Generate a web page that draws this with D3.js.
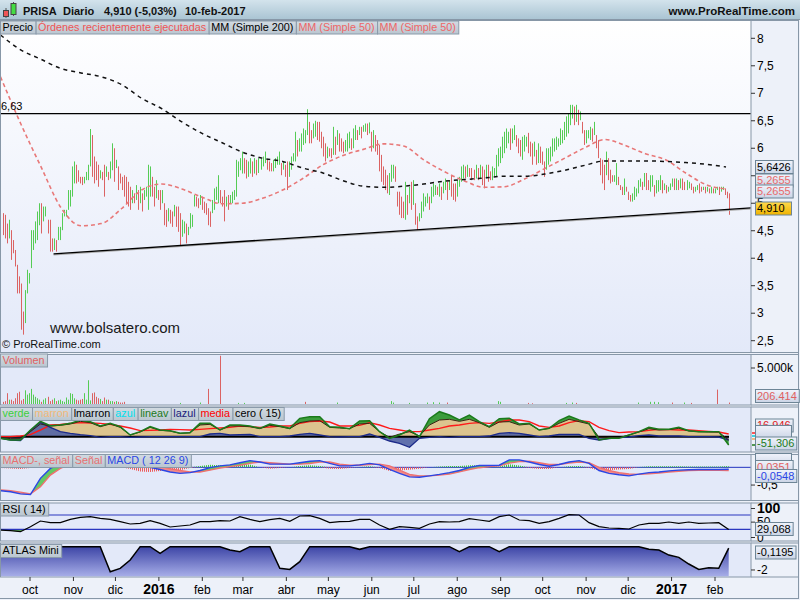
<!DOCTYPE html>
<html>
<head>
<meta charset="utf-8">
<title>PRISA Diario</title>
<script src="https://d3js.org/d3.v7.min.js"></script>
<style>
  body { margin: 0; background: #edf1f9; }
  svg { display: block; font-family: "Liberation Sans", Arial, sans-serif; }
</style>
</head>
<body>
<div id="chart"></div>
<script>
// PRISA daily chart up to 10-feb-2017

// daily bars: high / low
var hi = [
  4.82,4.79,4.63,4.70,4.51,4.33,4.15,3.88,3.67,3.54,3.03,3.42,3.79,3.73,
  4.51,4.51,4.67,4.85,5.00,5.00,4.94,4.94,4.70,4.70,4.36,4.36,4.33,4.57,4.57,4.82,4.88,4.88,5.24,5.24,
  5.67,5.76,5.70,5.60,5.48,5.48,5.48,5.57,5.70,6.35,6.24,5.85,5.76,5.70,5.60,5.57,5.70,5.67,5.57,5.76,
  6.09,6.00,5.79,5.67,5.54,5.48,5.51,5.48,5.39,5.30,5.24,5.18,5.33,5.24,5.30,5.18,5.24,5.30,5.70,5.67,5.48,5.30,5.42,5.24,5.24,5.24,
  5.00,4.88,4.91,4.88,4.85,4.97,4.94,4.94,4.82,4.70,4.67,4.63,4.57,4.82,4.79,5.15,5.12,5.09,5.15,5.12,
  5.03,5.00,4.91,4.85,5.06,5.27,5.30,5.51,5.24,5.12,5.24,5.12,5.15,5.15,5.21,5.24,5.79,5.76,5.82,5.94,5.82,5.79,5.76,5.82,5.76,5.82,
  5.79,5.82,5.82,5.85,5.94,5.79,5.76,5.73,5.79,5.82,5.85,5.94,5.73,5.76,5.70,5.76,5.76,5.85,5.91,6.30,6.15,6.18,6.27,6.36,6.33,
  6.71,6.48,6.33,6.45,6.50,6.48,6.48,6.30,6.21,6.09,6.03,6.00,6.00,6.39,6.21,6.33,6.27,6.18,6.12,6.15,6.27,6.30,6.18,6.36,6.42,
  6.33,6.39,6.39,6.42,6.45,6.45,6.47,6.30,6.33,6.24,6.15,6.06,5.88,5.67,5.61,5.51,5.55,5.70,5.70,5.67,5.21,5.21,5.12,5.03,
  5.39,5.15,5.30,5.39,5.42,5.00,4.76,4.82,5.03,5.18,5.12,5.18,5.12,5.30,5.36,5.33,5.30,5.36,5.30,5.39,5.45,5.39,5.42,5.51,5.36,5.36,
  5.42,5.48,5.67,5.70,5.67,5.70,5.64,5.64,5.61,5.70,5.64,5.70,5.67,5.61,5.70,5.70,5.58,5.67,5.64,5.88,6.00,6.03,6.21,6.30,6.36,
  6.30,6.36,6.36,6.42,6.24,6.18,6.15,6.21,6.24,6.21,6.28,6.12,6.09,6.12,5.97,6.09,6.03,5.94,5.76,6.00,6.00,6.03,6.18,6.18,6.21,
  6.18,6.36,6.33,6.48,6.58,6.64,6.79,6.79,6.76,6.79,6.70,6.67,6.48,6.33,6.33,6.33,6.39,6.36,6.48,6.24,6.15,5.82,5.79,5.70,
  5.94,5.82,5.61,5.51,5.51,5.73,5.48,5.33,5.30,5.45,5.30,5.21,5.15,5.18,5.30,5.27,5.42,5.45,5.39,5.55,5.55,5.42,5.51,5.51,5.33,5.42,5.42,5.51,5.42,5.36,
  5.33,5.30,5.36,5.45,5.45,5.45,5.42,5.45,5.45,5.39,5.42,5.39,5.36,5.30,5.30,5.33,5.36,5.30,5.30,5.30,5.30,5.27,5.30,5.27,5.27,5.30,5.30,5.30,5.30,5.27,5.21,5.18
];
var lo = [
  4.42,4.36,4.27,4.36,3.97,4.09,3.85,3.36,3.36,2.70,2.61,2.82,3.36,3.54,
  3.82,4.15,4.27,4.33,4.60,4.45,4.67,4.76,4.45,4.12,4.12,4.15,4.12,4.33,4.33,4.51,4.76,4.76,4.88,4.94,
  5.12,5.36,5.36,5.39,5.36,5.33,5.36,5.42,5.42,5.67,5.48,5.36,5.42,5.30,5.45,5.42,5.12,5.48,5.42,5.45,
  5.60,5.39,5.64,5.24,5.36,5.24,5.12,5.00,4.94,4.88,5.00,5.00,5.06,4.88,5.00,4.85,5.06,5.12,4.88,5.12,5.12,4.94,5.09,5.06,4.88,5.00,
  4.60,4.57,4.67,4.63,4.57,4.76,4.57,4.48,4.24,4.39,4.45,4.27,4.42,4.54,4.57,4.94,4.94,4.91,4.97,4.88,
  4.82,4.79,4.60,4.57,4.82,4.88,5.06,5.00,5.00,4.94,4.67,4.94,4.88,5.00,5.00,5.06,5.12,5.48,5.60,5.54,5.54,5.45,5.48,5.54,5.48,5.54,
  5.51,5.55,5.61,5.67,5.73,5.61,5.58,5.58,5.58,5.64,5.70,5.70,5.51,5.61,5.48,5.24,5.48,5.61,5.76,5.76,5.85,5.94,5.94,6.06,6.09,
  6.24,6.09,6.09,6.18,6.21,6.15,6.12,6.00,5.85,5.76,5.82,5.85,5.82,5.88,5.88,6.06,5.94,5.94,5.91,5.94,5.94,6.00,5.97,6.00,6.15,
  6.15,6.24,6.18,6.30,6.30,6.24,6.27,5.94,6.00,5.94,5.88,5.58,5.39,5.33,5.24,5.18,5.15,5.39,5.45,5.39,4.94,4.79,4.73,4.73,
  4.70,4.79,5.00,4.88,4.97,4.61,4.51,4.67,4.73,4.85,4.94,5.00,4.88,5.00,5.12,5.15,5.15,5.12,5.06,5.18,5.24,5.06,5.24,5.12,5.06,5.03,
  5.12,5.30,5.39,5.45,5.45,5.48,5.48,5.42,5.42,5.45,5.42,5.45,5.33,5.27,5.45,5.39,5.42,5.42,5.48,5.48,5.67,5.73,5.82,5.91,6.00,
  6.09,5.97,6.09,6.15,6.03,5.91,5.85,5.79,5.94,6.03,5.91,5.85,5.70,5.85,5.70,5.73,5.73,5.70,5.48,5.61,5.70,5.76,5.85,5.94,5.97,
  6.03,6.06,6.09,6.15,6.21,6.27,6.42,6.54,6.42,6.48,6.42,6.51,6.27,6.06,6.09,6.18,6.15,6.12,6.24,6.00,5.82,5.51,5.36,5.24,
  5.51,5.42,5.36,5.39,5.39,5.33,5.33,5.24,5.15,5.15,5.21,5.06,5.03,5.03,5.06,5.12,5.18,5.30,5.24,5.30,5.24,5.24,5.21,5.30,5.12,5.18,5.21,5.24,5.18,5.24,
  5.18,5.21,5.24,5.30,5.24,5.24,5.24,5.27,5.24,5.24,5.24,5.27,5.24,5.18,5.21,5.24,5.18,5.21,5.24,5.18,5.21,5.18,5.18,5.18,5.18,5.24,5.15,5.21,5.24,5.15,5.09,4.79
];

// moving averages, one reading every ~20 px along the chart
var ma200 = [8.06,7.79,7.62,7.45,7.37,7.30,7.16,6.91,6.72,6.48,6.27,6.10,5.93,5.82,5.76,5.64,5.55,5.41,5.31,5.29,
             5.31,5.35,5.40,5.43,5.46,5.49,5.49,5.53,5.60,5.69,5.77,5.77,5.77,5.76,5.74,5.71,5.66];
var ma50 = [7.30,6.45,5.67,4.92,4.59,4.63,4.90,5.24,5.35,5.26,5.11,4.99,5.00,5.09,5.24,5.45,5.70,5.87,5.98,6.08,
            6.04,5.79,5.58,5.41,5.29,5.30,5.44,5.63,5.82,6.01,6.16,6.05,5.90,5.79,5.55,5.34,5.26];
var resistance = 6.63;
var supportBar = [25, 361];
var supportPrice = [4.08, 4.89];

// volume (millions): first bars one by one, then the few visible ones
var volStart = [0.3,0.4,1.5,0.6,0.6,0.4,0.8,1.5,1.7,0.5,0.7,1.9,1.3,1.5,2.1,1.3,1.0,0.8,0.6,0.3,
                0.6,0.8,1.0,0.4,0.6,0.8,0.4,0.5,0.6,0.4,0.3,0.9,0.6,1.5,1.4,0.8,0.6,0.5,0.6,0.7,
                1.5,0.6,3.3,0.5,1.5,1.6,1.0,0.8,0.7,0.4,0.9,0.6,0.6,0.4,0.4,0.3,0.4,0.3,0.2,0.2,0.3];
var volBar = [88,98,102,108,117,120,150,166,193,194,202,211,214,217,221,246,247,261,263,280,283,285,316,322,324,326,333,339,342,355,361];
var volVal = [0.15,0.2,2.1,6.7,0.15,0.15,0.3,0.2,0.4,0.2,0.15,0.2,0.25,0.2,0.2,0.4,0.3,0.15,0.1,0.15,
              0.2,0.15,0.2,0.3,0.3,0.25,0.2,0.2,0.15,2.0,0.2];
var volCol = "ggrrggrgggggggrggrrggrggggrgrrr";

// oscillator panel (cero 15), one reading every ~10 px
var oscLineav = [-10,-20,-20,40,92,66,70,80,100,90,64,80,60,10,30,60,40,36,20,24,80,80,40,70,70,64,50,76,64,50,
                 110,120,120,60,56,48,94,96,30,-10,10,40,0,108,150,130,100,130,90,60,108,110,76,80,40,50,96,124,100,80,
                 -20,-10,-10,10,30,56,44,44,56,36,30,30,30,-50];
var oscLmarron = [-4,-12,-12,30,76,64,68,76,92,84,60,76,56,10,28,56,38,34,20,24,70,74,40,64,64,60,48,68,60,48,
                  84,94,96,56,52,48,76,80,30,-4,16,30,4,70,100,104,92,104,84,56,88,90,70,76,40,50,80,104,90,76,
                  -4,-4,-6,10,28,48,40,42,50,34,30,28,28,-20];
var oscMedia = [0,0,4,12,40,70,74,80,84,82,80,74,64,52,36,38,40,44,42,40,44,48,52,56,64,60,56,58,64,64,
                80,90,94,88,64,64,68,84,70,50,40,30,30,40,50,64,70,80,84,80,88,100,100,90,64,56,64,84,96,90,
                56,36,24,28,30,38,44,42,40,40,36,32,28,16];
var oscLazul = [-10,-20,-24,36,86,56,30,20,12,6,-4,0,0,-4,-2,0,0,0,0,0,0,16,20,10,12,14,0,0,0,4,
                14,20,10,0,-2,0,0,16,-4,-26,-40,-64,-10,-4,0,-4,0,0,0,4,20,24,20,10,0,4,14,14,14,-10,
                -20,-12,-6,-2,6,10,4,4,4,0,0,0,-2,-20];

// MACD (12 26 9)
var macdLine = [-0.66,-0.69,-0.75,-0.77,-0.31,-0.03,0.09,0.19,0.28,0.35,0.33,0.28,0.30,0.23,0.11,0,-0.06,-0.13,-0.17,-0.15,
                -0.09,-0.01,0.04,0.07,0.13,0.19,0.15,0.09,0.09,0.09,0.13,0.17,0.19,0.11,0.04,0.04,0.07,0.11,0.07,-0.06,
                -0.17,-0.27,-0.28,-0.24,-0.20,-0.15,-0.09,0,0.05,0.05,0.06,0.21,0.21,0.15,0.08,0.03,0.08,0.15,0.19,0.11,
                -0.09,-0.17,-0.21,-0.24,-0.19,-0.15,-0.13,-0.10,-0.08,-0.07,-0.06,-0.06,-0.06,-0.055];
var macdSignal = [-0.64,-0.66,-0.70,-0.75,-0.55,-0.22,-0.03,0.09,0.19,0.25,0.30,0.30,0.30,0.28,0.23,0.13,0.04,-0.04,-0.09,-0.13,
                  -0.13,-0.08,-0.02,0.02,0.06,0.11,0.15,0.13,0.11,0.09,0.09,0.11,0.15,0.15,0.09,0.06,0.06,0.08,0.09,0.04,
                  -0.08,-0.20,-0.24,-0.24,-0.22,-0.19,-0.13,-0.06,-0.01,0.02,0.04,0.12,0.16,0.17,0.13,0.08,0.08,0.12,0.15,0.13,
                  0,-0.09,-0.15,-0.19,-0.20,-0.18,-0.16,-0.13,-0.11,-0.09,-0.085,-0.085,-0.085,-0.09];

// RSI (14)
var rsi = [28.0,26.1,23.3,37.3,53.1,48.5,48.5,57.8,63.4,65.3,60.6,57.8,51.3,44.8,46.6,54.1,46.6,36.4,39.2,42.0,
           51.3,51.3,54.1,53.1,65.3,57.8,51.3,56.9,60.6,52.2,67.1,68.1,60.6,48.5,51.3,52.2,57.8,57.8,42.0,29.8,
           37.3,35.4,32.6,44.8,51.3,50.3,51.3,59.7,55.9,52.2,65.3,69.9,55.9,54.1,46.6,51.3,60.6,70.9,69.9,48.5,
           37.3,33.6,32.6,30.8,42.0,46.6,46.6,50.3,46.6,50.3,46.6,47.6,48.5,29.1];

// ATLAS Mini
var atlas = [0,0,0,0,0,0,0,0,0,0, 0,-2.15,-1.86,-1.14,0,0,-0.57,0,0,0, 0,0,0,-0.29,-0.43,0,0,0,-1.86,-1.95,
             -1.29,0,0,0,0,0,-0.23,0,0,0, 0,0,0,0,0,0,-0.43,0,0,0, -0.43,0,0,0,0,0,0,0,0,0,
             0,0,0,0,0,-0.23,-0.29,-0.72,-0.92,-1.49, -1.95,-1.80,-1.86,-0.12];

var monthNames = ['ene','feb','mar','abr','may','jun','jul','ago','sep','oct','nov','dic'];
var priceTicks = [8, 7.5, 7, 6.5, 6, 5.5, 5, 4.5, 4, 3.5, 3, 2.5];

// ---------------------------------------------------------------

var svg = d3.select('#chart').append('svg').attr('width', 800).attr('height', 600);
var defs = svg.append('defs');

function vGrad(id, c0, c1) {
  var g = defs.append('linearGradient').attr('id', id)
    .attr('x1', 0).attr('y1', 0).attr('x2', 0).attr('y2', 1);
  g.append('stop').attr('offset', '0%').attr('stop-color', c0);
  g.append('stop').attr('offset', '100%').attr('stop-color', c1);
}
vGrad('hdrGrad', '#d3e3ec', '#a8c3d2');
vGrad('priceGrad', '#ffffff', '#e3e9f9');
vGrad('atlasGrad', '#3d45a6', '#a7aee8');
vGrad('boxGrad', '#f0f3fb', '#cbd5e6');
vGrad('goldGrad', '#ffd94d', '#efb300');
vGrad('legGrad', '#d2dbe2', '#bac6d0');

// striped fills for the MACD histogram
function stripes(id, color) {
  var p = defs.append('pattern').attr('id', id).attr('width', 2).attr('height', 4)
    .attr('patternUnits', 'userSpaceOnUse');
  p.append('rect').attr('width', 1).attr('height', 4).attr('fill', color);
}
stripes('histUp', '#3cc83c');
stripes('histDown', '#ee5a5a');

svg.append('rect').attr('width', 800).attr('height', 600).attr('fill', '#edf1f9');

var plotRight = 751;
var panels = [
  { id: 'price', top: 20, bottom: 352, fill: 'url(#priceGrad)' },
  { id: 'vol', top: 354, bottom: 404.5, fill: '#e3e9f9' },
  { id: 'osc', top: 406.5, bottom: 451.5, fill: '#e3e9f9' },
  { id: 'macd', top: 454, bottom: 500, fill: '#e3e9f9' },
  { id: 'rsi', top: 502.5, bottom: 540.5, fill: '#e3e9f9' },
  { id: 'atlas', top: 542.5, bottom: 576.5, fill: '#e3e9f9' }
];
var G = {};
panels.forEach(function(p) {
  svg.append('rect').attr('x', 0.5).attr('y', p.top + 0.5)
    .attr('width', plotRight - 0.5).attr('height', p.bottom - p.top)
    .attr('fill', p.fill).attr('stroke', '#8797a7');
  [p.top + 0.5, p.bottom + 0.5].forEach(function(yy) {
    svg.append('line').attr('x1', plotRight).attr('x2', 798).attr('y1', yy).attr('y2', yy)
      .attr('stroke', '#8797a7');
  });
  defs.append('clipPath').attr('id', 'clip-' + p.id).append('rect')
    .attr('x', 1).attr('y', p.top + 1).attr('width', plotRight - 1.5).attr('height', p.bottom - p.top - 1);
  G[p.id] = svg.append('g').attr('clip-path', 'url(#clip-' + p.id + ')');
});
// outer frame
svg.append('line').attr('x1', 798.5).attr('x2', 798.5).attr('y1', 20).attr('y2', 599).attr('stroke', '#8797a7');
svg.append('line').attr('x1', 0).attr('x2', 799).attr('y1', 598.5).attr('y2', 598.5).attr('stroke', '#8797a7');

// scales
var x = d3.scaleLinear().domain([0, hi.length - 1]).range([3.3, 728.7]);
var sx = d3.scaleLinear().domain([0, oscLineav.length - 1]).range([0.5, 728.7]);
var mx = d3.scaleLinear().domain([0, ma200.length - 1]).range([0.5, 726]);
var xt = d3.scaleTime().domain([new Date(2015, 9, 1), new Date(2017, 1, 1)]).range([30, 715]);
var yP = d3.scaleLinear().domain([2.5, 8]).range([340.7, 38.3]);
var yV = d3.scaleLinear().domain([0, 5]).range([404, 368]);
var yO = d3.scaleLinear().domain([0, 60]).range([436.67, 426.67]);
var yM = d3.scaleLinear().domain([0, -0.5]).range([467.33, 485.06]);
var yR = d3.scaleLinear().domain([0, 100]).range([540, 504.25]);
var yA = d3.scaleLinear().domain([0, -2]).range([546.67, 569.97]);

function bx(i) { return Math.round(x(i)) + 0.5; }
function sxi(d, i) { return sx(i); }

// bar colour: green when the bar's middle is above the previous one
var mids = hi.map(function(h, i) { return (h + lo[i]) / 2; });
function isUp(i) { return i > 0 && mids[i] >= mids[i - 1]; }
var GREEN = '#55cc55', RED = '#db6363';

// ---- price panel ----
var gp = G.price;
gp.selectAll('line.bar').data(hi).enter().append('line').attr('class', 'bar')
  .attr('x1', function(d, i) { return bx(i); }).attr('x2', function(d, i) { return bx(i); })
  .attr('y1', function(d) { return yP(d); }).attr('y2', function(d, i) { return yP(lo[i]); })
  .attr('stroke', function(d, i) { return isUp(i) ? GREEN : RED; }).attr('stroke-width', 1);

var maLine = d3.line().x(function(d, i) { return mx(i); }).y(function(d) { return yP(d); }).curve(d3.curveMonotoneX);
gp.append('path').datum(ma50).attr('d', maLine).attr('fill', 'none')
  .attr('stroke', '#e87878').attr('stroke-width', 1.6).attr('stroke-dasharray', '4,3');
gp.append('path').datum(ma200).attr('d', maLine).attr('fill', 'none')
  .attr('stroke', '#111').attr('stroke-width', 1.5).attr('stroke-dasharray', '4,4');

// horizontal resistance
gp.append('line').attr('x1', 0).attr('x2', plotRight).attr('y1', yP(resistance)).attr('y2', yP(resistance))
  .attr('stroke', '#000').attr('stroke-width', 1.2);
svg.append('text').attr('x', 1).attr('y', yP(resistance) - 4).text('6,63').style('font-size', '11px');

// rising support line, extended to the axis
var sx0 = x(supportBar[0]), sy0 = yP(supportPrice[0]);
var slope = (yP(supportPrice[1]) - sy0) / (x(supportBar[1]) - sx0);
var syEnd = sy0 + slope * (plotRight - sx0);
gp.append('line').attr('x1', sx0).attr('y1', sy0 + 1).attr('x2', plotRight).attr('y2', syEnd + 1)
  .attr('stroke', '#aaa').attr('stroke-width', 1.2);
gp.append('line').attr('x1', sx0).attr('y1', sy0).attr('x2', plotRight).attr('y2', syEnd)
  .attr('stroke', '#000').attr('stroke-width', 1.3);

svg.append('text').attr('x', 50).attr('y', 333).text('www.bolsatero.com')
  .style('font-size', '15px').attr('fill', '#1a1a1a');
svg.append('text').attr('x', 2).attr('y', 348).text('\u00a9 ProRealTime.com')
  .style('font-size', '11px').attr('fill', '#111');

// ---- volume ----
var vData = volStart.map(function(v, i) { return { i: i, v: v, up: isUp(i) }; });
volBar.forEach(function(b, k) { vData.push({ i: b, v: volVal[k], up: volCol.charAt(k) === 'g' }); });
G.vol.selectAll('line.vol').data(vData).enter().append('line').attr('class', 'vol')
  .attr('x1', function(d) { return bx(d.i); }).attr('x2', function(d) { return bx(d.i); })
  .attr('y1', yV(0)).attr('y2', function(d) { return yV(d.v); })
  .attr('stroke', function(d) { return d.up ? GREEN : RED; });

// ---- oscillator (cero 15) ----
var go = G.osc;
var zeroArea = d3.area().x(sxi).y0(yO(0)).y1(function(d) { return yO(d); });
go.append('path').datum(oscLmarron).attr('d', zeroArea).attr('fill', '#dcc48e');
go.append('path').datum(oscLineav)
  .attr('d', d3.area().x(sxi).y0(function(d, i) { return yO(oscLmarron[i]); }).y1(function(d) { return yO(d); }))
  .attr('fill', '#3c9c3c');
go.append('path').datum(oscLazul).attr('d', zeroArea).attr('fill', '#5565a5').attr('opacity', 0.92);
var oLine = d3.line().x(sxi).y(function(d) { return yO(d); });
go.append('line').attr('x1', 0).attr('x2', 729).attr('y1', yO(0)).attr('y2', yO(0))
  .attr('stroke', '#000').attr('stroke-width', 2);
go.append('path').datum(oscMedia).attr('d', oLine).attr('fill', 'none').attr('stroke', '#ff1a1a').attr('stroke-width', 1.4);
go.append('path').datum(oscLazul).attr('d', oLine).attr('fill', 'none').attr('stroke', '#1c2a8a').attr('stroke-width', 1.3);
go.append('path').datum(oscLmarron).attr('d', oLine).attr('fill', 'none').attr('stroke', '#3a2412').attr('stroke-width', 1);
go.append('path').datum(oscLineav).attr('d', oLine).attr('fill', 'none').attr('stroke', '#1b7a1b').attr('stroke-width', 1.5);

// ---- MACD ----
var gm = G.macd;
var macdP = panels[3];
gm.append('line').attr('x1', 0).attr('x2', plotRight).attr('y1', yM(0)).attr('y2', yM(0))
  .attr('stroke', '#2233c0').attr('stroke-width', 1);
var diff = macdLine.map(function(m, i) { return m - macdSignal[i]; });
gm.append('path').datum(diff)
  .attr('d', d3.area().x(sxi).y0(yM(0)).y1(function(d) { return yM(Math.max(d, 0)); }))
  .attr('fill', 'url(#histUp)');
gm.append('path').datum(diff)
  .attr('d', d3.area().x(sxi).y0(yM(0)).y1(function(d) { return yM(Math.min(d, 0)); }))
  .attr('fill', 'url(#histDown)');
defs.append('clipPath').attr('id', 'macdAbove').append('path').datum(macdSignal)
  .attr('d', d3.area().x(sxi).y0(macdP.top).y1(function(d) { return yM(d); }));
defs.append('clipPath').attr('id', 'macdBelow').append('path').datum(macdSignal)
  .attr('d', d3.area().x(sxi).y0(macdP.bottom).y1(function(d) { return yM(d); }));
var between = d3.area().x(sxi).y0(function(d, i) { return yM(macdSignal[i]); }).y1(function(d) { return yM(d); });
gm.append('path').datum(macdLine).attr('d', between).attr('fill', '#64c864').attr('clip-path', 'url(#macdAbove)');
gm.append('path').datum(macdLine).attr('d', between).attr('fill', '#f08a8a').attr('clip-path', 'url(#macdBelow)');
var mLine = d3.line().x(sxi).y(function(d) { return yM(d); });
gm.append('path').datum(macdSignal).attr('d', mLine).attr('fill', 'none').attr('stroke', '#f07070').attr('stroke-width', 1.4);
gm.append('path').datum(macdLine).attr('d', mLine).attr('fill', 'none').attr('stroke', '#2a46e6').attr('stroke-width', 1.4);

// ---- RSI ----
var gr = G.rsi;
defs.append('clipPath').attr('id', 'rsiLow').append('rect')
  .attr('x', 0).attr('y', yR(30)).attr('width', plotRight).attr('height', 20);
gr.append('path').datum(rsi)
  .attr('d', d3.area().x(sxi).y0(yR(30)).y1(function(d) { return yR(d); }))
  .attr('fill', '#5aa85a').attr('clip-path', 'url(#rsiLow)');
[70, 30].forEach(function(lv) {
  gr.append('line').attr('x1', 0).attr('x2', plotRight).attr('y1', yR(lv)).attr('y2', yR(lv))
    .attr('stroke', '#2a36c0').attr('stroke-width', 1.2);
});
gr.append('path').datum(rsi).attr('d', d3.line().x(sxi).y(function(d) { return yR(d); }))
  .attr('fill', 'none').attr('stroke', '#000').attr('stroke-width', 1.2);

// ---- ATLAS Mini ----
var ga = G.atlas;
ga.append('path').datum(atlas)
  .attr('d', d3.area().x(sxi).y0(panels[5].bottom).y1(function(d) { return yA(d); }))
  .attr('fill', 'url(#atlasGrad)');
ga.append('path').datum(atlas).attr('d', d3.line().x(sxi).y(function(d) { return yA(d); }))
  .attr('fill', 'none').attr('stroke', '#000').attr('stroke-width', 1.5);

// ---- right axis ----
function axisLabel(cy, label, size, bold) {
  svg.append('line').attr('x1', plotRight).attr('x2', plotRight + 4).attr('y1', cy).attr('y2', cy).attr('stroke', '#333');
  svg.append('text').attr('x', plotRight + 6).attr('y', cy).attr('dy', '0.35em').text(label)
    .style('font-size', size || '12px').style('font-weight', bold ? 'bold' : 'normal');
}
priceTicks.forEach(function(v) { axisLabel(yP(v), String(v).replace('.', ',')); });
axisLabel(yV(5), '5.000k');
axisLabel(yM(-0.5), '-0,5');
axisLabel(508.5, '100', '14px', true);
axisLabel(yR(50), '50');
axisLabel(537.5, '0');
axisLabel(yA(-2), '-2');

function valueBox(cy, label, color, fill) {
  var g = svg.append('g');
  var txt = g.append('text').attr('x', 757).attr('y', cy).attr('dy', '0.36em').text(label)
    .attr('fill', color).style('font-size', '11px');
  var w = Math.max(txt.node().getComputedTextLength() + 4, 36);
  g.insert('rect', function() { return txt.node(); })
    .attr('x', 755.5).attr('y', cy - 6.5).attr('width', w).attr('height', 13)
    .attr('fill', fill || 'url(#boxGrad)').attr('stroke', '#6d8596');
}
valueBox(167, '5,6426', '#000');
valueBox(180.5, '5,2655', '#e86a6a');
valueBox(191.5, '5,2655', '#e86a6a');
valueBox(208.5, '4,910', '#000', 'url(#goldGrad)');
valueBox(396, '206.414', '#e06060');
valueBox(425.5, '16,946', '#e02020');
valueBox(432, '', '#000');
valueBox(443.5, '-51,306', '#1b7a1b');
[['#ff2020', 433], ['#00c8d8', 436], ['#f0a860', 439], ['#1b7a1b', 445]].forEach(function(m) {
  svg.append('line').attr('x1', plotRight + 1).attr('x2', plotRight + 4).attr('y1', m[1]).attr('y2', m[1])
    .attr('stroke', m[0]).attr('stroke-width', 1.5);
});
valueBox(460, '', '#000');
valueBox(467, '0,0351', '#e06060');
valueBox(476, '-0,0548', '#2a46e6');
valueBox(529, '29,068', '#000');
valueBox(552.5, '-0,1195', '#000');

// ---- time axis ----
var months = d3.timeMonth.range(new Date(2015, 9, 1), new Date(2017, 1, 2));
months.forEach(function(m) {
  var px = xt(m);
  svg.append('line').attr('x1', px).attr('x2', px).attr('y1', 577).attr('y2', 581).attr('stroke', '#333');
  var jan = m.getMonth() === 0;
  svg.append('text').attr('x', px).attr('y', 593.5).attr('text-anchor', 'middle')
    .text(jan ? m.getFullYear() : monthNames[m.getMonth()])
    .style('font-size', jan ? '14px' : '12px').style('font-weight', jan ? 'bold' : 'normal');
});

// ---- legends ----
function legend(x0, y0, items) {
  var g = svg.append('g');
  var xx = x0;
  items.forEach(function(it) {
    var txt = g.append('text').attr('x', xx + 2.5).attr('y', y0 + 10.3).text(it[0])
      .attr('fill', it[1]).style('font-size', '10.8px');
    var w = txt.node().getComputedTextLength() + 5;
    g.insert('rect', function() { return txt.node(); })
      .attr('x', xx + 0.5).attr('y', y0 + 0.5).attr('width', w).attr('height', 13)
      .attr('fill', 'url(#legGrad)').attr('stroke', '#8a9aaa');
    xx += w;
  });
}
legend(0, 20.5, [['Precio', '#000'], ['\u00d3rdenes recientemente ejecutadas', '#ee5555'],
  ['MM (Simple 200)', '#000'], ['MM (Simple 50)', '#ee6666'], ['MM (Simple 50)', '#ee6666']]);
legend(0, 353.5, [['Volumen', '#e06060']]);
legend(0, 407, [['verde', '#3ccf3c'], ['marron', '#f2b878'], ['lmarron', '#000'], ['azul', '#00e0ee'],
  ['lineav', '#1b7a1b'], ['lazul', '#1a1a7a'], ['media', '#ff0000'], ['cero ( 15)', '#000']]);
legend(0, 454, [['MACD-, se\u00f1al', '#e87070'], ['Se\u00f1al', '#e87070'], ['MACD ( 12 26 9)', '#2a46e6']]);
legend(0, 502.5, [['RSI ( 14)', '#000']]);
legend(0, 544, [['ATLAS Mini', '#000']]);

// ---- header ----
svg.append('rect').attr('x', 0).attr('y', 0).attr('width', 800).attr('height', 20).attr('fill', 'url(#hdrGrad)');
svg.append('line').attr('x1', 0).attr('x2', 800).attr('y1', 19.5).attr('y2', 19.5).attr('stroke', '#8797a7');
// candle icon
svg.append('line').attr('x1', 6).attr('x2', 6).attr('y1', 8).attr('y2', 18).attr('stroke', '#555');
svg.append('rect').attr('x', 3.5).attr('y', 10.5).attr('width', 5).attr('height', 6).attr('fill', '#ee5555').attr('stroke', '#444');
svg.append('line').attr('x1', 13.5).attr('x2', 13.5).attr('y1', 2).attr('y2', 16).attr('stroke', '#555');
svg.append('rect').attr('x', 11).attr('y', 3.5).attr('width', 5).attr('height', 11).attr('fill', '#44dd44').attr('stroke', '#444');
[['PRISA', 23], ['Diario', 63], ['4,910 (-5,03%)', 104], ['10-feb-2017', 185]].forEach(function(h) {
  svg.append('text').attr('x', h[1]).attr('y', 15).text(h[0])
    .style('font-size', '11px').style('font-weight', 'bold').attr('fill', '#111');
});
svg.append('text').attr('x', 795).attr('y', 15).attr('text-anchor', 'end').text('www.ProRealTime.com')
  .style('font-size', '11.5px').style('font-weight', 'bold').attr('fill', '#111');
</script>
</body>
</html>
